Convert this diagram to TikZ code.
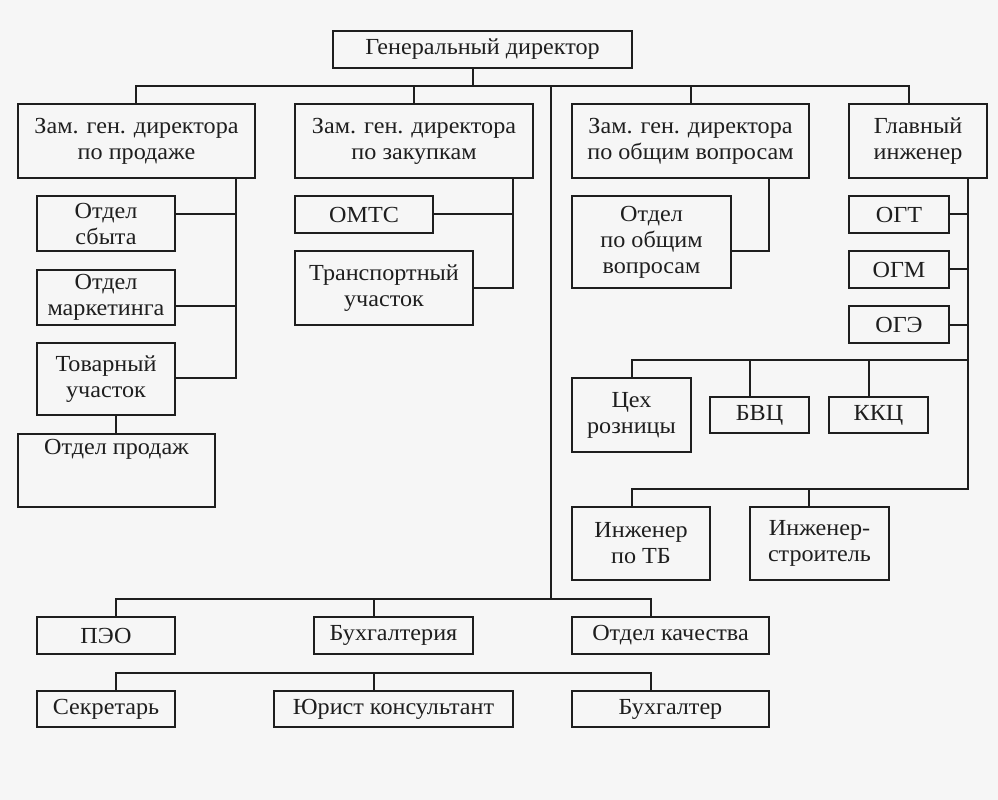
\documentclass[tikz,border=0pt]{standalone}
\usepackage{fontspec}
\setmainfont[FakeStretch=1.05]{Liberation Serif}
\definecolor{bgc}{HTML}{F6F6F6}
\definecolor{ink}{HTML}{1E1E1E}
\begin{document}
\begin{tikzpicture}[x=1pt,y=-1pt,
  box/.style={draw=ink,line width=1.6pt,rectangle,inner sep=0pt,align=center,
    font=\fontsize{23}{26}\selectfont,text=ink},
  conn/.style={draw=ink,line width=1.6pt}]
\fill[bgc] (0,0) rectangle (998,800);
\useasboundingbox (0,0) rectangle (998,800);
% boxes
\node[box,minimum width=299pt,minimum height=37pt] (gd) at (482.5,49.5) {Генеральный директор};
\node[box,minimum width=237pt,minimum height=74pt] (z1) at (136.5,141) {Зам. ген. директора\\по продаже};
\node[box,minimum width=238pt,minimum height=74pt] (z2) at (414,141) {Зам. ген. директора\\по закупкам};
\node[box,minimum width=237pt,minimum height=74pt] (z3) at (690.5,141) {Зам. ген. директора\\по общим вопросам};
\node[box,minimum width=138pt,minimum height=74pt] (gi) at (918,141) {Главный\\инженер};
\node[box,minimum width=138pt,minimum height=55pt] (sb) at (106,223.5) {Отдел\\сбыта};
\node[box,minimum width=138pt,minimum height=55pt] (mk) at (106,297.5) {Отдел\\маркетинга};
\node[box,minimum width=138pt,minimum height=72pt] (tu) at (106,379) {Товарный\\участок};
\node[box,minimum width=197pt,minimum height=73pt,
  label={[anchor=north,yshift=-3pt,font=\fontsize{23}{26}\selectfont,text=ink]north:Отдел продаж}] (op) at (116.5,470.5) {};
\node[box,minimum width=138pt,minimum height=37pt] (om) at (364,214.5) {ОМТС};
\node[box,minimum width=178pt,minimum height=74pt] (tr) at (384,288) {Транспортный\\участок};
\node[box,minimum width=159pt,minimum height=92pt] (ov) at (651.5,242) {Отдел\\по общим\\вопросам};
\node[box,minimum width=100pt,minimum height=37pt] (ogt) at (899,214.5) {ОГТ};
\node[box,minimum width=100pt,minimum height=37pt] (ogm) at (899,269.5) {ОГМ};
\node[box,minimum width=100pt,minimum height=37pt] (oge) at (899,324.5) {ОГЭ};
\node[box,minimum width=119pt,minimum height=74pt] (cr) at (631.5,415) {Цех\\розницы};
\node[box,minimum width=99pt,minimum height=36pt] (bvc) at (759.5,415) {БВЦ};
\node[box,minimum width=99pt,minimum height=36pt] (kkc) at (878.5,415) {ККЦ};
\node[box,minimum width=138pt,minimum height=73pt] (itb) at (641,543.5) {Инженер\\по ТБ};
\node[box,minimum width=139pt,minimum height=73pt] (is) at (819.5,543.5) {Инженер-\\строитель};
\node[box,minimum width=138pt,minimum height=37pt] (peo) at (106,635.5) {ПЭО};
\node[box,minimum width=159pt,minimum height=37pt] (bh) at (393.5,635.5) {Бухгалтерия};
\node[box,minimum width=197pt,minimum height=37pt] (ok) at (670.5,635.5) {Отдел качества};
\node[box,minimum width=138pt,minimum height=36pt] (sec) at (106,709) {Секретарь};
\node[box,minimum width=239pt,minimum height=36pt] (jur) at (393.5,709) {Юрист консультант};
\node[box,minimum width=197pt,minimum height=36pt] (bhr) at (670.5,709) {Бухгалтер};
% junction coordinates
\coordinate (tg) at (473,86);
\coordinate (t1) at (136,86);
\coordinate (t3) at (691,86);
\coordinate (t4) at (909,86);
\coordinate (tv) at (551,86);
\coordinate (b0) at (551,599);
\coordinate (b1) at (116,599);
\coordinate (b2) at (374,599);
\coordinate (b3) at (651,599);
\coordinate (s1) at (116,673);
\coordinate (s2) at (374,673);
\coordinate (s3) at (651,673);
\coordinate (vs) at (236,378);
\coordinate (vz) at (513,288);
\coordinate (vz1) at (513,214);
\coordinate (vg) at (769,251);
\coordinate (g1) at (968,360);
\coordinate (g2) at (968,489);
\coordinate (gt) at (968,214);
\coordinate (gm) at (968,269);
\coordinate (ge) at (968,325);
\coordinate (h1) at (632,360);
\coordinate (h2) at (750,360);
\coordinate (h3) at (869,360);
\coordinate (k1) at (632,489);
\coordinate (k2) at (809,489);
\coordinate (pp) at (116,434);
% top level
\draw[conn] (gd.south -| tg) -- (tg);
\draw[conn] (z1.north -| t1) -- (t1) -- (t4) -- (gi.north -| t4);
\draw[conn] (z2.north) -- (z2.north |- t1);
\draw[conn] (t3) -- (z3.north -| t3);
\draw[conn] (tv) -- (b0);
% sales
\draw[conn] (z1.south -| vs) -- (vs) -- (vs -| tu.east);
\draw[conn] ([yshift=9.5pt]sb.east) -- ([yshift=9.5pt]sb.east -| vs);
\draw[conn] ([yshift=-8.5pt]mk.east) -- ([yshift=-8.5pt]mk.east -| vs);
\draw[conn] (pp) -- (tu.south -| pp);
% purchasing
\draw[conn] (z2.south -| vz) -- (vz) -- (tr.east);
\draw[conn] (vz1) -- (vz1 -| om.east);
% general
\draw[conn] (z3.south -| vg) -- (vg) -- (vg -| ov.east);
% chief engineer
\draw[conn] (gi.south -| g2) -- (g2) -- (k1) -- (itb.north -| k1);
\draw[conn] (k2) -- (is.north -| k2);
\draw[conn] (gt) -- (gt -| ogt.east);
\draw[conn] (gm) -- (gm -| ogm.east);
\draw[conn] (ge) -- (ge -| oge.east);
\draw[conn] (g1) -- (h1) -- (cr.north -| h1);
\draw[conn] (h2) -- (bvc.north -| h2);
\draw[conn] (h3) -- (kkc.north -| h3);
% bottom
\draw[conn] (peo.north -| b1) -- (b1) -- (b3) -- (ok.north -| b3);
\draw[conn] (b2) -- (bh.north -| b2);
\draw[conn] (sec.north -| s1) -- (s1) -- (s3) -- (bhr.north -| s3);
\draw[conn] (s2) -- (jur.north -| s2);
\end{tikzpicture}
\end{document}
